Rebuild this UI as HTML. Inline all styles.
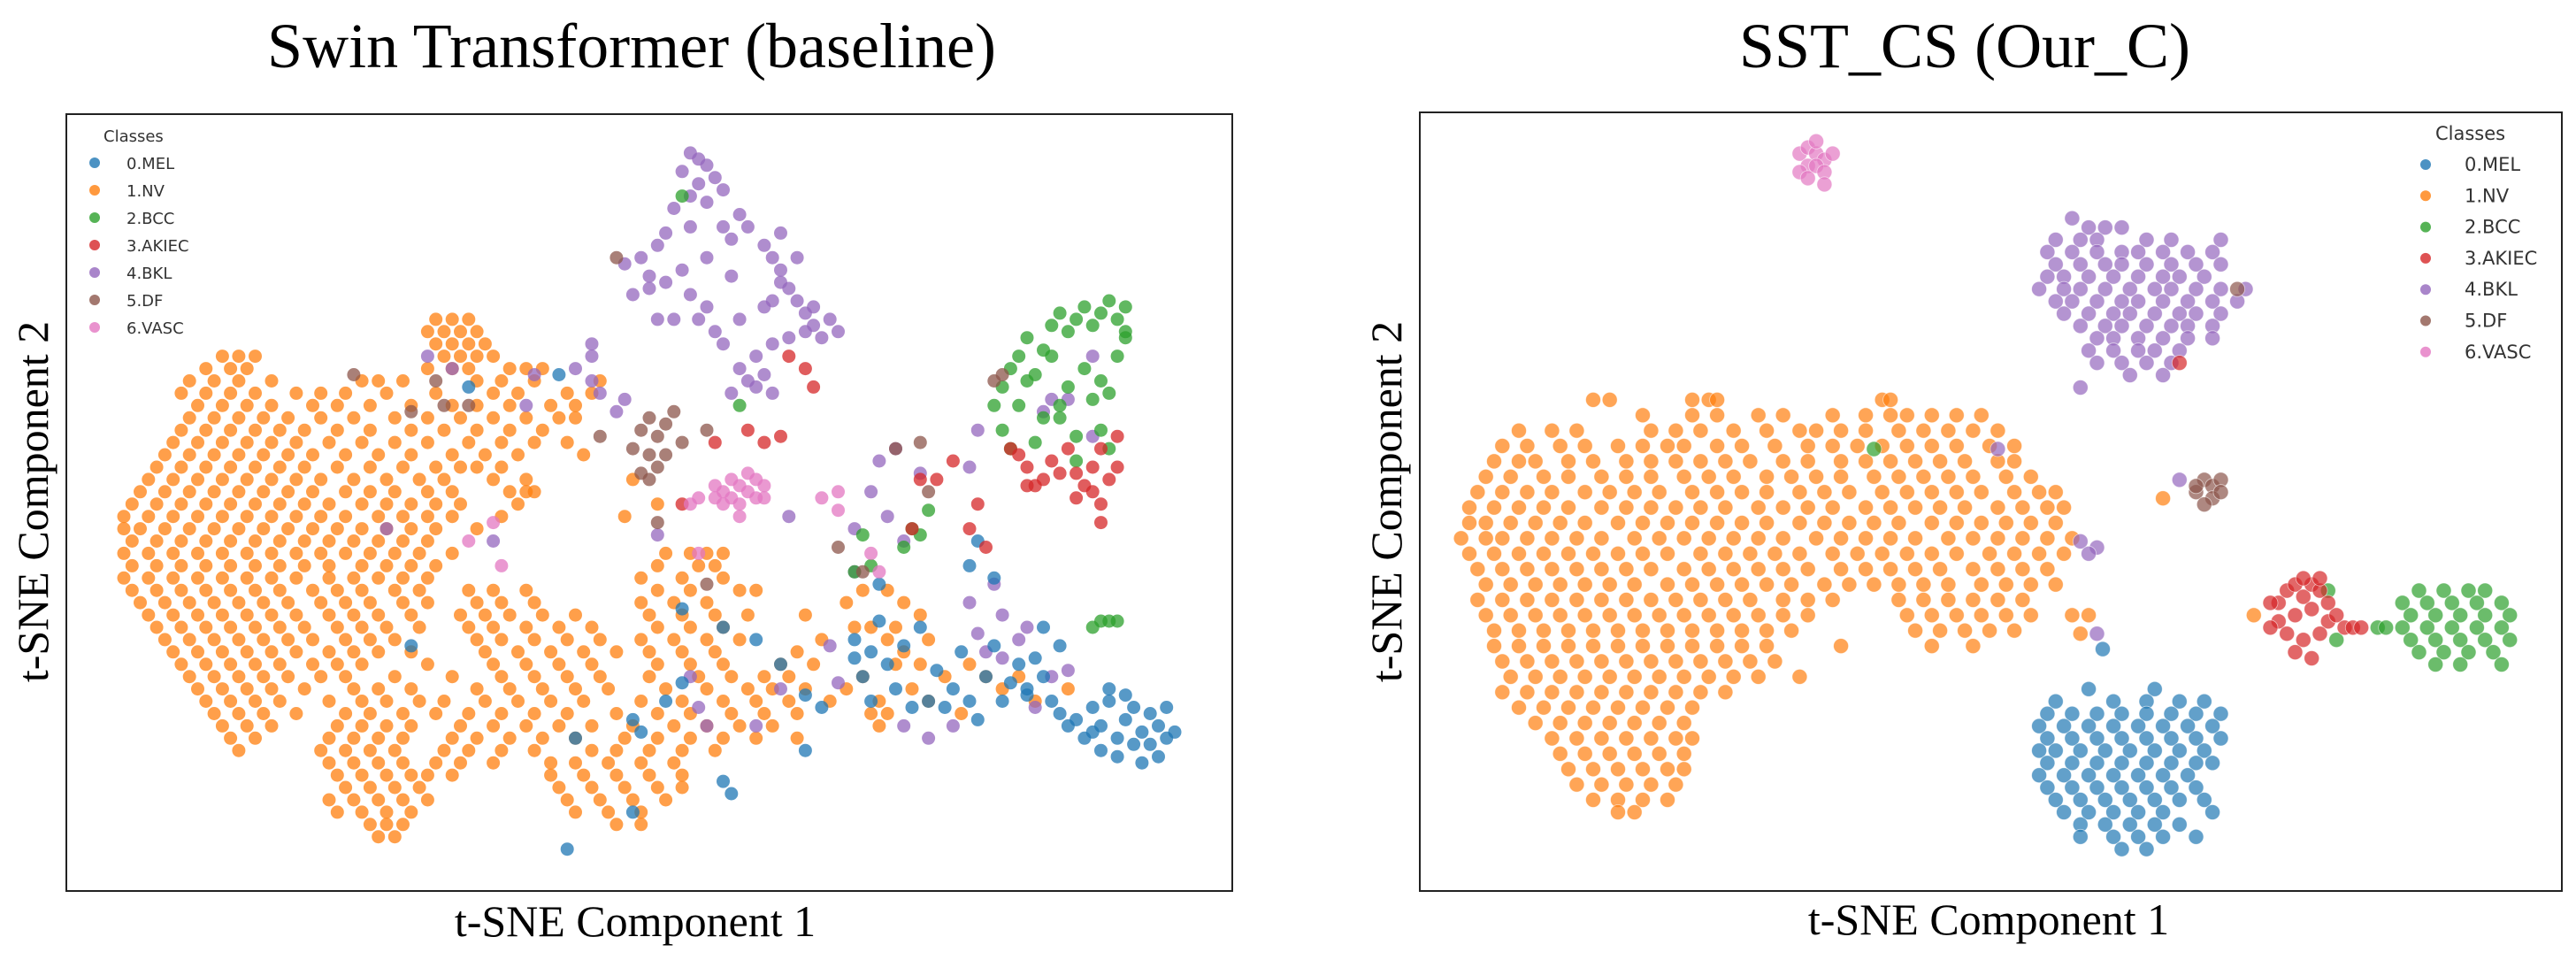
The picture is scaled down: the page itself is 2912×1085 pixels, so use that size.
<!DOCTYPE html>
<html><head><meta charset="utf-8"><style>
html,body{margin:0;padding:0;background:#fff}
svg{display:block}
.t{font-family:"Liberation Serif",serif;fill:#000}
.lg{font-family:"DejaVu Sans","Liberation Sans",sans-serif;fill:#333}
</style></head><body>
<svg id="fig" width="2912" height="1085" viewBox="0 0 2912 1085" xmlns="http://www.w3.org/2000/svg">
<text class="t" x="714" y="76" font-size="72" text-anchor="middle">Swin Transformer (baseline)</text>
<text class="t" x="2221" y="76" font-size="72" text-anchor="middle">SST_CS (Our_C)</text>
<rect x="75" y="129" width="1318" height="878" fill="none" stroke="#222" stroke-width="2"/>
<rect x="1605" y="127" width="1291" height="880" fill="none" stroke="#222" stroke-width="2"/>
<g id="leftPts"></g>
<g id="rightPts"></g>
<text class="t" x="718" y="1058" font-size="50" text-anchor="middle">t-SNE Component 1</text>
<text class="t" x="2248" y="1056" font-size="50" text-anchor="middle">t-SNE Component 1</text>
<text class="t" x="0" y="0" font-size="50" text-anchor="middle" transform="translate(54,567) rotate(-90)">t-SNE Component 2</text>
<text class="t" x="0" y="0" font-size="50" text-anchor="middle" transform="translate(1584,567) rotate(-90)">t-SNE Component 2</text>
<g id="legL"></g>
<g id="legR"></g>
</svg>
<script>
const classNames=["0.MEL","1.NV","2.BCC","3.AKIEC","4.BKL","5.DF","6.VASC"];
const classColors=["#1f77b4","#ff7f0e","#2ca02c","#d62728","#9467bd","#8c564b","#e377c2"];
// Left (baseline) embedding, rows "v: u u u" or pairs "u,v"
const leftNV=`98:53 55 57|96:52 54 56 58|94:53 55 57 59|92:27 29 31 54 56 60 58|90:25 28 30 52 55 57 62 64 66|88:23 26 29 33 44 46 49 58 61 65 73|86:22 25 28 31 36 39 42 47 53 60 63 69 72|84:24 27 30 33 38 41 45 50 55 58 62 67 70|82:23 26 29 32 35 39 43 48 52 56 60 64 68 70|80:22 25 28 31 34 37 41 45 50 54 58 62 66|78:21 24 27 30 33 36 40 44 48 52 57 61 65 69|76:20 23 26 29 32 35 38 42 46 50 55 59 63 71|74:19 22 25 28 31 34 37 41 45 49 53 56 58 61|72:18 21 24 27 30 33 36 39 43 47 51 54 60 64 77|70:17 20 23 26 29 32 35 38 42 45 48 52 55 62 64 65|68:16 19 22 25 28 31 34 37 40 44 47 50 53 56 63 80|66:15 18 21 24 27 30 33 36 39 42 46 49 52 55 61 76|64:15 17 20 23 26 29 32 35 38 41 44 47 50 53 58|62:16 19 22 25 28 31 34 37 40 43 46 49 52|60:15 18 21 24 27 30 33 36 39 42 45 48 51 55 81 84 86 88|58:16 19 22 25 28 31 34 37 40 44 47 50 53 80 85 87|56:15 18 21 24 27 30 33 36 40 43 46 49 52 78 83 88|54:16 19 22 25 28 31 34 38 41 44 48 51 57 60 64 80 84 90 92 105 108|52:17 20 23 26 29 32 35 39 42 45 49 52 58 61 65 78 82 86 103 110|50:18 21 24 27 30 33 36 40 43 46 50 56 59 62 66 70 79 83 87 91 98 112|48:19 22 25 28 31 34 37 41 44 47 51 57 60 64 68 72 80 84 88 104 106 109|46:20 23 26 29 32 35 38 42 45 48 58 61 65 69 73 78 82 86 90 100 108 113|44:21 24 27 30 33 36 40 43 46 50 59 63 67 71 75 79 83 87 97 110|42:22 25 28 31 34 38 41 44 52 60 64 68 72 80 84 88 95 99 109 112 118|40:23 26 29 32 35 39 42 48 55 61 65 69 73 79 85 89 93 96 105 115 120 124|38:24 27 30 33 37 43 46 50 58 62 66 70 74 81 86 91 94 98 103 111 122 130|36:25 28 31 34 40 44 47 51 54 59 63 67 71 78 83 88 92 96 101 107 113 126|34:26 29 32 36 42 45 49 53 57 61 65 69 75 80 84 89 93 97 106 108 117|32:27 30 33 41 44 47 50 56 60 64 68 72 77 82 86 90 94 107|30:28 31 40 43 46 49 55 58 62 66 70 76 80 84 88 92 97|28:29 39 42 45 48 54 57 61 65 72 75 79 83 87|26:40 43 46 49 53 56 60 67 70 74 78 82|24:41 44 47 50 52 55 67 71 75 79 83|22:42 45 48 51 68 72 76 80 83|20:40 43 46 49 52 69 73 77 81|18:41 44 47 50 70 74 78|16:45 47 49 75 78|14:46 48`;
const leftMEL="131,33 132,30 133,35 134,28 134,32 135,36 136,30 136,27 137,33 138,29 138,35 139,31 139,26 140,34 140,29 141,32 141,27 142,30 142,35 143,31 137,37 135,38 133,31 130,32 129,34 104,46 105,40 106,44 106,36 107,49 108,42 109,38 110,45 111,35 112,48 113,36 114,41 115,35 116,38 117,44 118,36 119,33 120,40 121,45 122,36 123,39 124,42 125,38 126,43 127,40 128,36 129,45 127,48 125,37 119,62 118,58 121,56 100,35 98,37 95,42 92,46 88,48 83,51 81,36 83,39 78,31 77,33 70,30 69,12 77,18 88,23 89,21 50,45 98,28 57,87 68,89 104,43 107,55";
const leftBKL="84,125 85,124 86,123 83,122 85,120 87,121 84,118 86,117 88,119 82,116 90,115 91,113 89,111 84,113 81,112 80,110 78,108 76,107 79,105 81,104 83,106 84,102 86,100 85,98 87,96 88,94 79,103 77,102 89,105 93,110 94,108 95,106 95,104 96,103 94,101 93,100 97,101 98,99 99,97 100,95 98,96 96,95 94,94 92,92 90,90 91,88 93,89 94,86 89,86 92,87 90,98 95,112 97,108 99,100 101,98 102,96 88,113 86,108 82,98 80,98 72,92 72,88 73,86 75,83 76,85 64,84 65,89 52,92 55,90 70,90 72,94 60,62 47,64 80,63 84,40 85,35 86,32 104,64 106,70 108,66 110,62 107,75 109,77 112,73 118,74 119,80 118,52 119,47 121,55 122,50 124,46 120,44 125,48 128,40 130,41 126,35 116,32 113,30 102,39 101,45 95,38 92,32 110,32 96,66 104,57 130,85 133,92 133,79 127,83 128,85 122,43";
const leftBCC="83,118 121,84 122,87 123,90 124,92 125,95 126,89 127,93 128,97 129,99 130,96 131,98 132,100 133,97 134,99 135,101 136,98 137,95 136,92 134,88 133,85 132,90 130,87 129,84 127,82 125,88 124,84 122,80 126,78 131,79 134,80 135,77 131,75 129,82 137,96 135,86 123,77 137,100 128,92 112,63 110,61 106,58 104,57 111,64 113,67 134,49 135,49 136,49 133,48 90,84 105,63";
const leftAKIEC="91,80 93,78 95,79 98,90 99,87 96,92 112,72 114,72 116,75 119,68 118,64 120,61 123,77 125,74 126,71 127,72 128,75 130,77 131,73 132,71 133,74 134,77 135,72 136,74 133,70 134,68 134,65 131,69 129,73 124,76 136,79 125,71 111,64 87,78 83,68";
const leftDF="75,108 43,89 53,88 54,84 50,83 57,84 78,80 79,82 80,79 81,81 82,83 83,78 77,77 79,76 81,76 80,74 78,73 79,72 86,80 73,79 109,77 112,78 113,70 121,88 122,89 105,57 102,61 80,65 86,55";
const leftVASC="87,71 88,70 89,72 90,71 91,70 92,72 93,71 88,68 90,68 92,69 89,69 91,73 87,69 85,69 93,69 90,66 84,68 60,65 57,62 61,58 85,60 100,69 102,67 102,70 106,60 107,57";
// Right (SST_CS) embedding
const rightNV=`85:37 39 49 51 52 72 73|82.5:43 49 52 57 60 66 70 73 75 78 81 84|80:28 32 35 44 47 50 54 58 62 64 67 70 74 77 80 83 86|77.5:26 29 33 36 40 43 46 48 52 55 59 63 66 69 72 75 78 81 85 88|75:25 28 30 34 37 41 44 47 50 53 56 60 63 67 70 73 76 79 82 86 88|72.5:24 27 31 34 38 41 44 48 51 54 58 61 64 67 71 74 77 80 83 87 90|70:23 26 29 32 36 39 42 45 49 52 55 58 62 65 68 72 75 78 81 84 88 91 93|67.5:22 25 28 31 34 38 41 44 47 50 53 57 60 63 66 70 73 76 79 82 86 89 92 94|65:22 24 27 30 33 36 40 43 46 49 52 55 58 62 65 68 71 74 78 81 84 87 90 93|62.5:21 24 26 29 32 35 38 42 45 48 51 54 57 60 64 67 70 73 76 80 83 86 89 92 95|60:22 25 28 31 34 37 40 43 46 50 53 56 59 62 66 69 72 75 78 81 85 88 91 94|57.5:23 26 29 32 35 38 41 44 48 51 54 57 60 63 67 70 73 76 79 83 86 89 92|55:24 27 30 33 36 39 42 46 49 52 55 58 61 65 68 71 74 77 80 84 87 90 93|52.5:23 26 29 32 35 38 41 44 47 50 53 56 60 63 66 74 77 80 83 86 89|50:24 27 30 33 36 39 42 45 48 51 54 57 60 63 75 78 81 84 87 90 95|47.5:25 28 31 34 37 40 43 46 49 52 55 58 61 76 79 82 85 88|45:25 28 31 34 37 40 43 46 49 52 55 58 67 78 83|42.5:26 29 32 35 38 41 44 47 50 53 56 59|40:27 30 33 36 39 42 45 48 51 54 57 62|37.5:26 29 32 35 38 41 44 47 50 53|35:28 31 34 37 40 43 46 49|32.5:30 33 36 39 42 45 48|30:32 35 38 41 44 47 49|27.5:33 36 39 42 45 48|25:34 37 40 43 46 48|22.5:35 38 41 44 47|20:37 40 43 46|18:40 42|50:97 117|47:96|69:106`;
const rightMEL=`38:97 105|36:93 100 104 108 111|34:92 95 98 101 104 107 110 113|32:91 94 97 100 103 106 109 112|30:92 95 98 101 104 107 110 113|28:91 93 96 99 102 105 108 111|26:92 95 98 101 104 107 110 112|24:91 94 97 100 103 106 109|22:92 95 98 101 104 107 110|20:93 96 99 102 105 108 111|18:94 97 100 103 106 112|16:96 99 102 105 108|14:96 100 103 106 110|12:101 104|44.5:98.7`;
const rightBKL=`114.5:95|113:97 99 101|111:93 96 98 104 107 113|109:92 95 98 101 103 106 109 112|107:93 96 99 101 104 107 110 113|105:92 94 97 100 103 106 108 111|103:91 94 96 99 102 105 107 110 113 116|101:93 95 98 101 103 106 109 112 115|99:94 97 100 102 105 108 110 113|97:96 99 101 104 107 109 112|95:98 100 103 106 109 112|93:97 100 103 105 108|91:98 101 104 107|89:102 106|62:96|61:98|60:97|47:98|87:96|77:86|72:108`;
const rightBCC=`54:137 140 143 145|52:135 138 141 144 147|50:136 139 142 145 148|48:135 138 141 144 147|46:136 139 142 145 148|44:137 140 143 146|42:139 142 147|48:132 133|46:127|54:126|77:71`;
const rightAKIEC="120,52 121,54 122,55 123,53 124,55 125,54 126,52 120,49 122,50 124,51 126,49 121,47 123,46 125,47 122,44 124,43 119,48 127,50 128,48 129,48 130,48 123,56 125,56 119,52 108,91";
const rightDF="111,72 112,71 113,72 110,70 112,69 111,68 113,70 110,71 115,103";
const rightVASC="62,125 63,126 64,125 65,124 63,123 64,123 62,122 65,122 66,125 64,127 63,121 65,120";
const leftXDomain=[8,150], leftYDomain=[5.2,131.3];
const rightXDomain=[16,154.3], rightYDomain=[5.2,131.7];

function parse(s){
  const out=[];
  if(s.indexOf(':')>=0){
    s.split('|').forEach(r=>{const [v,us]=r.split(':');us.trim().split(/\s+/).forEach(u=>out.push([+u,+v]));});
  } else {
    s.trim().split(/\s+/).forEach(p=>{const [u,v]=p.split(',');out.push([+u,+v]);});
  }
  return out;
}
function scale(d,r){return x=>r[0]+(x-d[0])/(d[1]-d[0])*(r[1]-r[0]);}
const NS="http://www.w3.org/2000/svg";
function drawPlot(gid,series,xs,ys,rad,op,edge){
  const g=document.getElementById(gid);
  series.forEach(([ci,str])=>{
    parse(str).forEach(([u,v])=>{
      const c=document.createElementNS(NS,'circle');
      c.setAttribute('cx',xs(u).toFixed(1));c.setAttribute('cy',ys(v).toFixed(1));
      c.setAttribute('r',rad);c.setAttribute('fill',classColors[ci]);c.setAttribute('fill-opacity',op);
      if(edge){c.setAttribute('stroke','#fff');c.setAttribute('stroke-width','0.8');c.setAttribute('stroke-opacity','0.6');}
      
      
      g.appendChild(c);
    });
  });
}
drawPlot('leftPts',[[1,leftNV],[4,leftBKL],[0,leftMEL],[2,leftBCC],[3,leftAKIEC],[5,leftDF],[6,leftVASC]],
  scale(leftXDomain,[75,1393]),scale(leftYDomain,[1007,129]),7.5,0.75,false);
drawPlot('rightPts',[[1,rightNV],[0,rightMEL],[4,rightBKL],[2,rightBCC],[3,rightAKIEC],[5,rightDF],[6,rightVASC]],
  scale(rightXDomain,[1605,2896]),scale(rightYDomain,[1007,127]),8.5,0.7,true);
function legend(gid,tx,ty,mx,textx,y0,dy,fs){
  const g=document.getElementById(gid);
  const t=document.createElementNS(NS,'text');
  t.setAttribute('x',tx);t.setAttribute('y',ty);t.setAttribute('font-size',fs);t.setAttribute('class','lg');
  t.textContent='Classes';
  
  
  g.appendChild(t);
  classNames.forEach((n,i)=>{
    const c=document.createElementNS(NS,'circle');
    c.setAttribute('cx',mx);c.setAttribute('cy',y0+i*dy);c.setAttribute('r',6);
    c.setAttribute('fill',classColors[i]);c.setAttribute('fill-opacity',0.8);
    
    
    g.appendChild(c);
    const l=document.createElementNS(NS,'text');
    l.setAttribute('x',textx);l.setAttribute('y',y0+i*dy+7);l.setAttribute('font-size',fs);l.setAttribute('class','lg');
    l.textContent=n;
    
    
    g.appendChild(l);
  });
}
legend('legL',117,160,107,143,184,31,18);
legend('legR',2753,158,2742,2786,186,35.3,21);
</script>
</body></html>
